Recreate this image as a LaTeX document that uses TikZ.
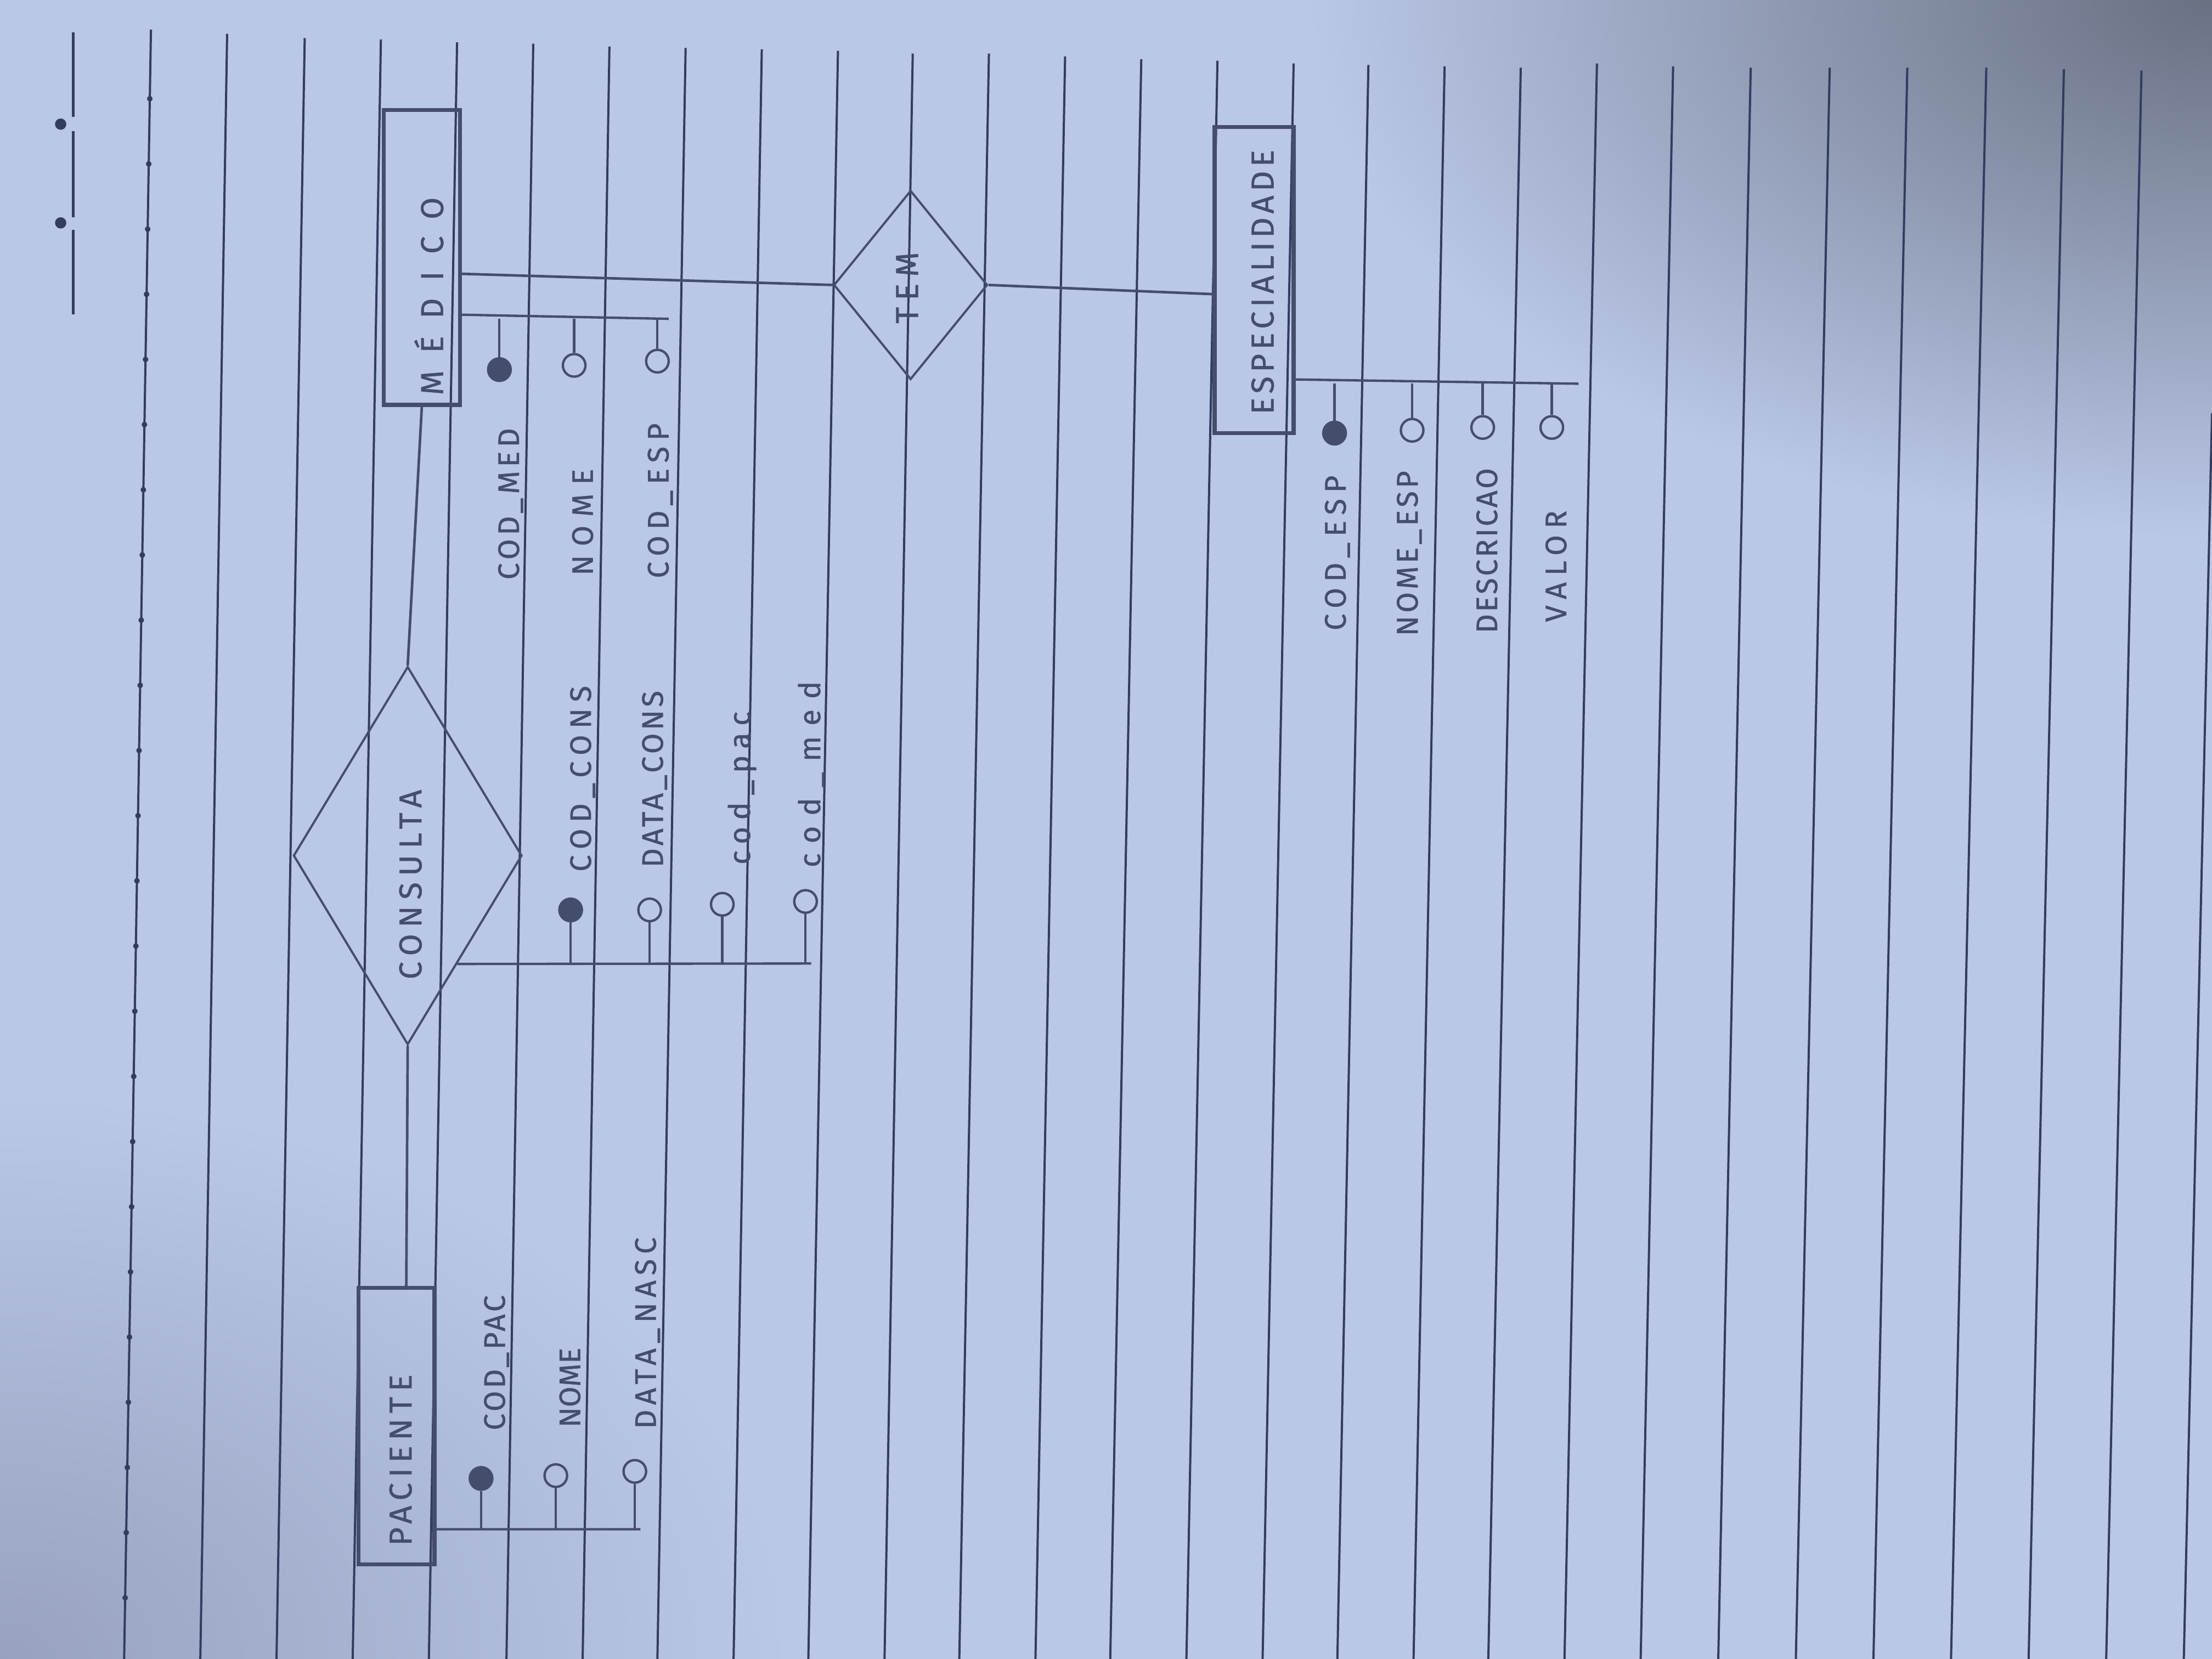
\documentclass[tikz,border=0pt]{standalone}
\usepackage{fontspec}
\setmainfont{Fira Sans}[FakeBold=0.8]
\usetikzlibrary{shapes.geometric,calc}

\definecolor{paper}{RGB}{186,199,231}
\definecolor{paperdark}{RGB}{104,112,130}
\definecolor{paperlow}{RGB}{152,162,192}
\definecolor{ruling}{RGB}{50,60,95}
\definecolor{pencil}{RGB}{68,78,108}

% rotated hand lettering, with extra letter spacing
\newcommand{\hw}[2]{\rotatebox{90}{\addfontfeatures{LetterSpace=#1}#2}}

\tikzset{
  entity/.style={shape=rectangle, draw=pencil, line width=4pt, inner sep=0pt},
  relation/.style={shape=diamond, draw=pencil, line width=2.2pt, inner sep=0pt},
  entname/.style={text=pencil, inner sep=0pt, font=\fontsize{32}{38}\selectfont},
  attrkey/.style={shape=circle, draw=pencil, fill=pencil, line width=2.4pt, minimum size=0.8cm, inner sep=0pt},
  attrfree/.style={shape=circle, draw=pencil, line width=2.4pt, minimum size=0.8cm, inner sep=0pt},
  attrname/.style={text=pencil, inner sep=0pt, anchor=south, font=\fontsize{30}{36}\selectfont},
  relline/.style={draw=pencil, line width=2.6pt},
  stem/.style={draw=pencil, line width=2.4pt},
  ruled/.style={draw=ruling, line width=2.2pt}
}

\begin{document}
\begin{tikzpicture}[x=0.05cm, y=-0.05cm]
  \useasboundingbox (0,0) rectangle (1568,1176);

  % paper
  \fill[paper] (0,0) rectangle (1568,1176);
  \begin{scope}
    \clip (0,0) rectangle (1568,1176);
    \shade[inner color=paperdark, outer color=paper] (1568,0) ellipse (32cm and 19cm);
    \shade[inner color=paperlow, outer color=paper] (0,1176) ellipse (28cm and 20cm);
  \end{scope}
  \foreach \t/\ty/\b in {107/21/88, 161/24/142, 216/27/196, 270/28/250, 324/30/304,
      378/31/359, 432/33/413, 486/34/466, 540/35/520, 594/36/573, 647/38/627,
      701/38/680, 755/40/734, 809/42/787, 863/43/841, 917/45/895, 970/46/948,
      1024/47/1002, 1078/48/1055, 1132/45/1109, 1186/47/1163, 1241/48/1218,
      1297/48/1273, 1352/48/1328, 1408/48/1383, 1463/49/1438, 1518/50/1493}
    \draw[ruled] (\t,\ty) -- (\b,1176);
  \draw[ruled] (1568,293) -- (1548,1176);
  \foreach \a/\z in {23/83, 93/154, 163/223}
    \draw[ruled, line width=2.6pt] (52,\a) -- (52,\z);
  \fill[ruling] (43,88) circle (0.2cm);
  \fill[ruling] (43,158) circle (0.2cm);
  \foreach \k in {0,...,23}
    \fill[ruling] ({107-0.01645*(49+46.2*\k)}, {70+46.2*\k}) circle (0.1cm);

  % entities and relationships
  \node (medico) at (299,182.5) [entity, minimum width=2.7cm, minimum height=10.45cm] {};
  \node (medicolab) at (304,210) [entname] {\hw{55}{MÉDICO}};
  \node (espec) at (889,198.5) [entity, minimum width=2.8cm, minimum height=10.85cm] {};
  \node (especlab) at (895,200) [entname] {\hw{13}{ESPECIALIDADE}};
  \node (paciente) at (281,1011) [entity, minimum width=2.7cm, minimum height=9.8cm] {};
  \node (pacientelab) at (284,1035) [entname] {\hw{17}{PACIENTE}};
  \node (consulta) at (289,606.5) [relation, minimum width=8.1cm, minimum height=13.4cm] {};
  \node (consultalab) at (291,627) [entname] {\hw{20}{CONSULTA}};
  \node (tem) at (645.5,202) [relation, minimum width=5.45cm, minimum height=6.7cm] {};
  \node (temlab) at (643,204) [entname] {\hw{21}{TEM}};

  \draw[relline] ([yshift=-0.58cm]medico.east) -- (tem.west);
  \draw[relline] (tem.east) -- ([yshift=-0.5cm]espec.west);
  \draw[relline] (medico.south) -- (consulta.north);
  \draw[relline] (consulta.south) -- ([xshift=0.35cm]paciente.north);

  % atributos de medico
  \coordinate (medbar) at (474,226);
  \draw[stem] ([yshift=-2.03cm]medico.east) -- (medbar);
  \node (codmed) at (354,262) [attrkey] {};
  \node (nomemed) at (407,259) [attrfree] {};
  \node (codespmed) at (466,256) [attrfree] {};
  \draw[stem] (codmed) -- (codmed |- medbar);
  \draw[stem] (nomemed) -- (nomemed |- medbar);
  \draw[stem] (codespmed) -- (codespmed |- medbar);
  \node (codmedlab) at (362,411) [attrname] {\hw{13}{COD\_MED}};
  \node (nomemedlab) at (413,408) [attrname] {\hw{30}{NOME}};
  \node (codespmedlab) at (468,410) [attrname] {\hw{20}{COD\_ESP}};

  % atributos de consulta
  \coordinate (consbar) at (575,683);
  \draw[stem] ($(consulta.east)!0.57!(consulta.south)$) -- (consbar);
  \node (codcons) at (404.5,645) [attrkey] {};
  \node (datacons) at (460.5,645) [attrfree] {};
  \node (codpaccons) at (512,641) [attrfree] {};
  \node (codmedcons) at (571,639) [attrfree] {};
  \draw[stem] (codcons) -- (codcons |- consbar);
  \draw[stem] (datacons) -- (datacons |- consbar);
  \draw[stem] (codpaccons) -- (codpaccons |- consbar);
  \draw[stem] (codmedcons) -- (codmedcons |- consbar);
  \node (codconslab) at (413,618) [attrname] {\hw{21}{COD\_CONS}};
  \node (dataconslab) at (464,615) [attrname] {\hw{10}{DATA\_CONS}};
  \node (codpacconslab) at (526,613) [attrname] {\hw{23}{cod\_pac}};
  \node (codmedconslab) at (575,615) [attrname] {\hw{35}{cod\_med}};

  % atributos de paciente
  \coordinate (pacbar) at (454,1084);
  \draw[stem] ([yshift=-3.65cm]paciente.east) -- (pacbar);
  \node (codpac) at (341,1048) [attrkey] {};
  \node (nomepac) at (394,1046) [attrfree] {};
  \node (datanasc) at (450,1043) [attrfree] {};
  \draw[stem] (codpac) -- (codpac |- pacbar);
  \draw[stem] (nomepac) -- (nomepac |- pacbar);
  \draw[stem] (datanasc) -- (datanasc |- pacbar);
  \node (codpaclab) at (352,1014) [attrname] {\hw{9}{COD\_PAC}};
  \node (nomepaclab) at (404,1012) [attrname] {\hw{0}{NOME}};
  \node (datanasclab) at (459,1013) [attrname] {\hw{17}{DATA\_NASC}};

  % atributos de especialidade
  \coordinate (espbar) at (1119,272);
  \draw[stem] ([yshift=-3.525cm]espec.east) -- (espbar);
  \node (codesp) at (946,307) [attrkey] {};
  \node (nomeesp) at (1001,305) [attrfree] {};
  \node (descricao) at (1051,303) [attrfree] {};
  \node (valor) at (1100,303) [attrfree] {};
  \draw[stem] (codesp) -- (codesp |- espbar);
  \draw[stem] (nomeesp) -- (nomeesp |- espbar);
  \draw[stem] (descricao) -- (descricao |- espbar);
  \draw[stem] (valor) -- (valor |- espbar);
  \node (codesplab) at (948,447) [attrname] {\hw{20}{COD\_ESP}};
  \node (nomeesplab) at (999,451) [attrname] {\hw{10}{NOME\_ESP}};
  \node (descricaolab) at (1054,449) [attrname] {\hw{7}{DESCRICAO}};
  \node (valorlab) at (1103,441) [attrname] {\hw{22}{VALOR}};
\end{tikzpicture}
\end{document}
